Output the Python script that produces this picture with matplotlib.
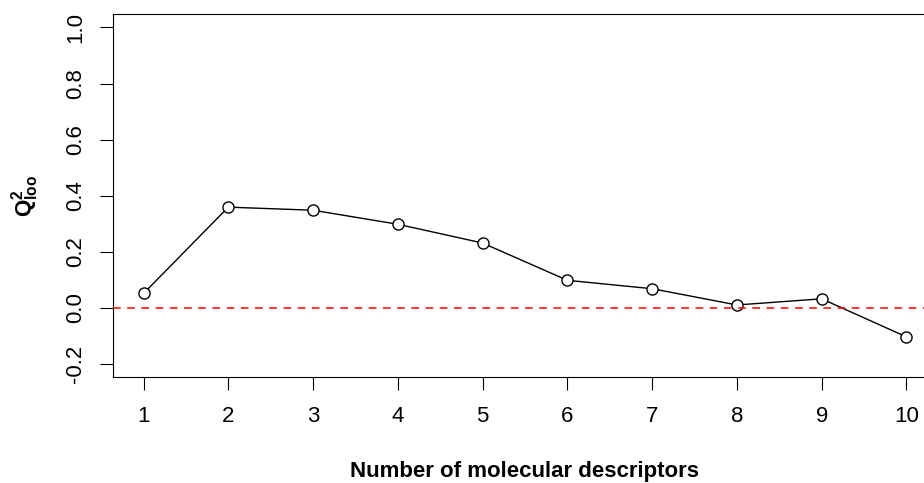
import matplotlib
matplotlib.use("Agg")
import matplotlib.pyplot as plt

# number of descriptors vs leave-one-out Q2
n_desc = [1, 2, 3, 4, 5, 6, 7, 8, 9, 10]
q2_loo = [0.051, 0.359, 0.348, 0.298, 0.231, 0.098, 0.068, 0.010, 0.032, -0.104]
yticks = [-0.2, 0.0, 0.2, 0.4, 0.6, 0.8, 1.0]

plt.rcParams['font.family'] = ['Liberation Sans', 'DejaVu Sans']
plt.rcParams['mathtext.fontset'] = 'custom'
plt.rcParams['mathtext.rm'] = 'Liberation Sans'
plt.rcParams['mathtext.bf'] = 'Liberation Sans:bold'

W, H = 924, 483
fig = plt.figure(figsize=(W / 100, H / 100), dpi=100)
# plot region in pixels (right edge runs past the picture, as in the original)
left, right, top, bottom = 113, 937, 14, 377.3
ax = fig.add_axes([left / W, 1 - bottom / H, (right - left) / W, (bottom - top) / H])

ax.plot(n_desc, q2_loo, color='black', lw=1.0, marker='o', ms=8,
        mfc='white', mec='black', mew=1.0, zorder=2)
ax.axhline(0, color='red', lw=1.1, dashes=(5, 4.3), zorder=3)

ax.set_xlim(0.64, 10.36)
ax.set_ylim(-0.248, 1.048)
ax.set_xticks(n_desc)
ax.set_xticklabels([str(n) for n in n_desc])
ax.set_yticks(yticks)
ax.set_yticklabels([f'{v:.1f}' for v in yticks], rotation=90, va='center')

ax.tick_params(axis='both', direction='out', length=9.4, width=0.8,
               labelsize=16, colors='black')
ax.tick_params(axis='x', pad=11)
ax.tick_params(axis='y', pad=10)

for s in ['left', 'top', 'bottom']:
    ax.spines[s].set_linewidth(0.8)
ax.spines['right'].set_visible(False)

ax.set_xlabel('Number of molecular descriptors', fontsize=16, fontweight='bold', va='top')
ax.xaxis.set_label_coords(0.5, -0.230)
ax.set_ylabel(r'$\mathbf{Q}^{\mathbf{2}}_{\mathbf{loo}}$', fontsize=16)
ax.yaxis.label.set_va('center')
ax.yaxis.set_label_coords(-0.107, 0.5)

fig.savefig('out.png', dpi=100)
